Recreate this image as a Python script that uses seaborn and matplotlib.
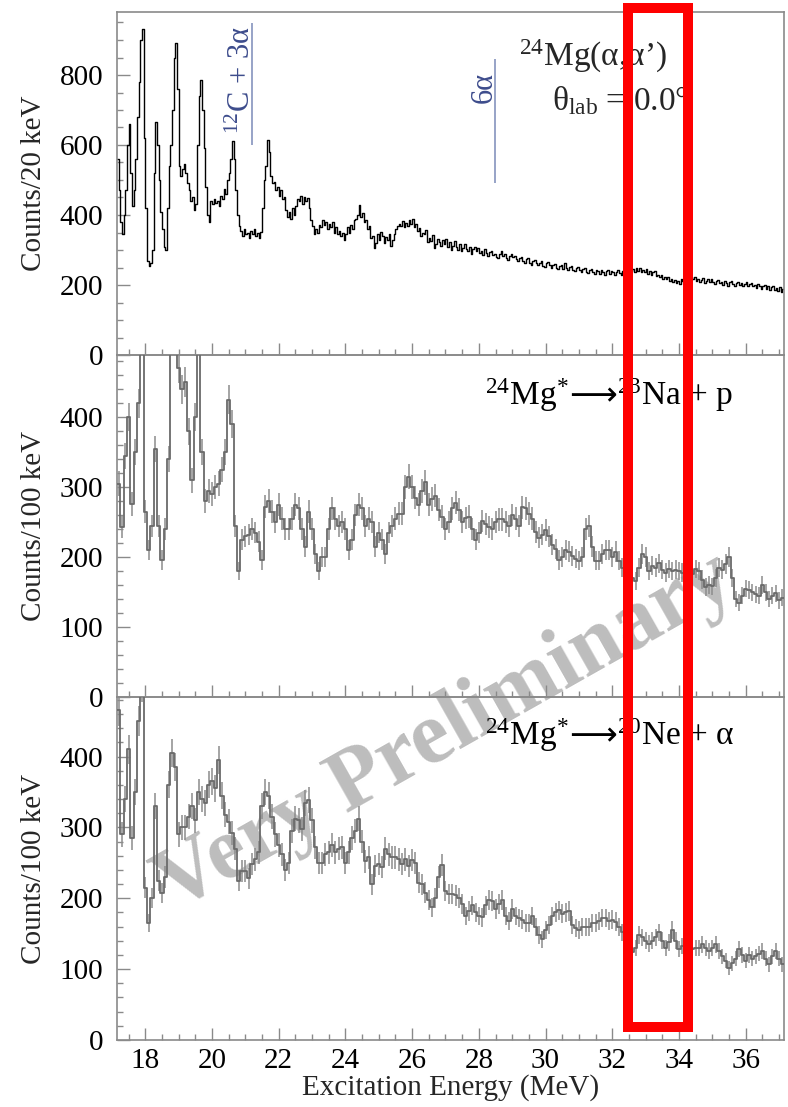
import numpy as np
import pandas as pd
import matplotlib
matplotlib.use("Agg")
import matplotlib.pyplot as plt
import seaborn as sns
from matplotlib.patches import Rectangle
from matplotlib.ticker import MultipleLocator
from matplotlib.offsetbox import TextArea, HPacker, AnnotationBbox

# ---------------- data ----------------
bin_lo, bin_hi = 17.15, 37.15
top_bins, dec_bins = 400, 200
top_energy = [round(17.175 + 0.05 * i, 3) for i in range(400)]   # bin centres (MeV)
energy = [round(17.2 + 0.1 * i, 2) for i in range(200)]          # bin centres (MeV)

# 24Mg(a,a') inclusive spectrum, one row per MeV (17.15 .. 37.15)
top_counts = [
    560, 470, 380, 345, 400, 470, 600, 660, 520, 425, 470, 560, 680, 780, 900, 930, 620, 420, 270, 255,
    262, 300, 520, 665, 600, 500, 410, 360, 310, 300, 420, 540, 600, 700, 850, 890, 760, 540, 510, 530,
    545, 520, 490, 470, 440, 450, 415, 430, 600, 740, 785, 700, 590, 480, 400, 380, 440, 430, 445, 435,
    440, 425, 455, 445, 475, 460, 500, 520, 560, 610, 560, 470, 400, 370, 355, 340, 360, 345, 350, 335,
    355, 345, 360, 340, 348, 335, 352, 420, 500, 540, 615, 580, 510, 490, 495, 470, 480, 455, 470, 445,
    450, 415, 395, 410, 390, 420, 400, 425, 445, 440, 455, 430, 452, 440, 448, 420, 385, 370, 345, 360,
    350, 372, 365, 385, 372, 380, 360, 375, 365, 380, 350, 365, 345, 355, 340, 350, 330, 345, 365, 350,
    372, 360, 385, 390, 400, 428, 395, 405, 380, 385, 360, 368, 335, 340, 305, 320, 345, 330, 352, 340,
    320, 338, 330, 345, 312, 330, 345, 360, 368, 375, 370, 382, 365, 378, 370, 385, 375, 388, 365, 375,
    355, 362, 340, 350, 345, 358, 322, 335, 325, 342, 305, 318, 332, 322, 312, 328, 318, 332, 308, 322,
    300, 312, 325, 308, 300, 318, 296, 305, 318, 302, 296, 310, 290, 302, 310, 298, 306, 292, 298, 286,
    302, 292, 284, 295, 298, 285, 290, 280, 276, 288, 296, 284, 288, 276, 272, 284, 290, 280, 284, 274,
    268, 278, 280, 270, 264, 274, 276, 264, 258, 270, 272, 262, 256, 264, 268, 255, 252, 262, 266, 256,
    250, 256, 260, 250, 246, 255, 258, 246, 262, 250, 242, 252, 254, 244, 240, 250, 252, 242, 236, 246,
    248, 238, 234, 244, 246, 236, 232, 242, 240, 232, 244, 238, 230, 240, 242, 232, 240, 236, 228, 238,
    244, 234, 230, 240, 232, 226, 236, 232, 240, 246, 236, 248, 240, 250, 238, 244, 236, 246, 232, 240,
    228, 238, 240, 226, 230, 222, 228, 218, 224, 216, 222, 212, 218, 210, 214, 206, 212, 204, 216, 212,
    222, 214, 220, 210, 224, 216, 222, 212, 218, 208, 214, 220, 206, 212, 216, 208, 218, 210, 204, 212,
    214, 206, 210, 200, 212, 206, 198, 208, 212, 202, 196, 206, 210, 200, 206, 198, 204, 210, 198, 202,
    206, 196, 200, 192, 202, 196, 190, 198, 200, 190, 196, 186, 194, 198, 186, 192, 184, 194, 180, 190,
]

# 24Mg* -> 23Na + p  (100 keV bins)
na_p_counts = [
    305, 243, 345, 400, 276, 350, 420, 520, 265, 210,
    245, 355, 245, 196, 240, 340, 520, 560, 470, 440,
    450, 380, 310, 400, 520, 350, 280, 295, 290, 300,
    305, 325, 350, 425, 390, 245, 180, 225, 230, 232,
    240, 235, 222, 196, 272, 280, 265, 250, 275, 255,
    240, 240, 255, 275, 270, 240, 215, 265, 240, 205,
    180, 200, 200, 240, 270, 255, 245, 250, 240, 210,
    225, 260, 275, 270, 245, 255, 250, 215, 235, 225,
    205, 235, 245, 255, 262, 262, 300, 315, 300, 285,
    275, 295, 307, 275, 283, 288, 268, 258, 240, 250,
    270, 278, 268, 250, 256, 258, 240, 225, 235, 252,
    248, 243, 240, 250, 254, 254, 250, 245, 260, 255,
    245, 271, 270, 262, 255, 236, 228, 232, 239, 230,
    218, 212, 196, 200, 210, 208, 202, 198, 195, 200,
    240, 245, 215, 195, 195, 205, 210, 210, 200, 208,
    195, 185, 180, 172, 170, 166, 185, 205, 200, 180,
    188, 185, 191, 182, 178, 183, 180, 182, 180, 178,
    180, 178, 176, 183, 180, 168, 157, 160, 158, 170,
    185, 182, 190, 200, 170, 140, 135, 145, 155, 153,
    150, 147, 145, 160, 150, 140, 145, 148, 138, 142,
]

# 24Mg* -> 20Ne + alpha  (100 keV bins)
ne_a_counts = [
    465, 290, 340, 410, 285, 350, 450, 500, 215, 165,
    200, 330, 225, 207, 230, 360, 405, 385, 290, 300,
    300, 315, 330, 310, 350, 340, 335, 360, 365, 355,
    395, 345, 318, 308, 292, 270, 225, 238, 238, 228,
    248, 255, 265, 330, 350, 345, 315, 290, 275, 262,
    240, 250, 295, 312, 310, 298, 335, 338, 310, 272,
    250, 250, 262, 265, 275, 265, 270, 272, 250, 265,
    285, 295, 312, 280, 252, 258, 220, 245, 248, 244,
    270, 262, 258, 258, 255, 248, 255, 245, 254, 250,
    222, 220, 208, 198, 187, 200, 230, 247, 210, 206,
    206, 204, 200, 192, 175, 182, 190, 180, 175, 173,
    190, 197, 196, 185, 192, 197, 175, 168, 185, 175,
    172, 170, 165, 165, 175, 160, 148, 142, 155, 162,
    175, 180, 183, 178, 180, 182, 162, 158, 155, 160,
    160, 160, 165, 165, 168, 172, 172, 168, 170, 167,
    160, 152, 145, 130, 124, 130, 148, 145, 140, 136,
    140, 145, 152, 140, 130, 138, 155, 140, 128, 133,
    130, 125, 128, 130, 130, 135, 130, 125, 130, 135,
    125, 118, 112, 102, 108, 115, 128, 120, 112, 120,
    115, 118, 122, 125, 115, 107, 118, 125, 115, 107,
]

thresholds = [21.2, 28.48]                       # MeV
threshold_labels = [r"$^{12}$C + 3α", "6α"]
ylabels = ["Counts/20 keV", "Counts/100 keV", "Counts/100 keV"]
x_ticks = [18, 20, 22, 24, 26, 28, 30, 32, 34, 36]
channel_labels = [(r"$^{24}$Mg$^{*}$", r"$^{23}$Na + p"),
                  (r"$^{24}$Mg$^{*}$", r"$^{20}$Ne + α")]

# ---------------- style ----------------
sns.set_style("ticks")
plt.rcParams["font.family"] = ["Liberation Serif", "DejaVu Serif"]
plt.rcParams["mathtext.fontset"] = "custom"
plt.rcParams["mathtext.rm"] = "Liberation Serif"
plt.rcParams["mathtext.it"] = "Liberation Serif:italic"
plt.rcParams["mathtext.bf"] = "Liberation Serif:bold"

FS = 21
spine_c = "#8a8a8a"
blue_txt = "#3d4c8c"
blue_line = "#8593bd"
gray = "#6a6a6a"

fig = plt.figure(figsize=(7.88, 11.07), dpi=100)
L, W = 117 / 788, 667 / 788
ax_top = fig.add_axes([L, 752 / 1107, W, 343 / 1107])
ax_mid = fig.add_axes([L, 410 / 1107, W, 342 / 1107])
ax_bot = fig.add_axes([L, 67 / 1107, W, 343 / 1107])
axes = [ax_top, ax_mid, ax_bot]

df_top = pd.DataFrame({"E": top_energy, "top": top_counts})
df = pd.DataFrame({"E": energy, "nap": na_p_counts, "nea": ne_a_counts})

sns.histplot(data=df_top, x="E", weights="top", bins=top_bins,
             binrange=(bin_lo, bin_hi), element="step",
             fill=False, color="black", linewidth=1.0, ax=ax_top)

for ax, col in [(ax_mid, "nap"), (ax_bot, "nea")]:
    c = df[col].to_numpy(dtype=float)
    ax.errorbar(df["E"], c, yerr=np.sqrt(c), fmt="none", ecolor="#8c8c8c",
                elinewidth=1.1, zorder=2)
    sns.histplot(data=df, x="E", weights=col, bins=dec_bins,
                 binrange=(bin_lo, bin_hi), element="step",
                 fill=False, color=gray, linewidth=1.3, ax=ax, zorder=3)

ylims = [(0, 980), (0, 489), (0, 484)]
ymajor = [200, 100, 100]
yminor = [50, 20, 20]
for ax, yl, lab, mj, mn in zip(axes, ylims, ylabels, ymajor, yminor):
    ax.set_facecolor("none")
    ax.set_xlim(bin_lo, bin_hi)
    ax.set_ylim(*yl)
    ax.set_ylabel(lab, fontsize=FS)
    ax.yaxis.set_label_coords(-0.105, 0.5)
    ax.set_xlabel("")
    ax.set_xticks(x_ticks)
    ax.xaxis.set_minor_locator(MultipleLocator(0.5))
    ax.yaxis.set_major_locator(MultipleLocator(mj))
    ax.yaxis.set_minor_locator(MultipleLocator(mn))
    ax.tick_params(axis="both", which="both", direction="in", colors=spine_c,
                   labelcolor="black", labelsize=FS, top=False, right=False)
    ax.tick_params(axis="both", which="major", length=9, width=1.0)
    ax.tick_params(axis="both", which="minor", length=4.5, width=1.0)
    ax.tick_params(axis="y", pad=10)
    ax.tick_params(axis="x", pad=6)
    for s in ax.spines.values():
        s.set_visible(True)
        s.set_color(spine_c)
        s.set_linewidth(1.2)

ax_top.tick_params(axis="x", labelbottom=False)
ax_mid.tick_params(axis="x", labelbottom=False)
ax_bot.set_xlabel("Excitation Energy (MeV)", fontsize=FS, labelpad=0)

# threshold markers
ax_top.vlines(thresholds[0], 600, 949, colors=blue_line, lw=1.2)
ax_top.vlines(thresholds[1], 491, 846, colors=blue_line, lw=1.2)
ax_top.text(thresholds[0] - 0.06, 786, threshold_labels[0], rotation=90,
            rotation_mode="anchor", ha="center", va="baseline",
            color=blue_txt, fontsize=22)
ax_top.text(thresholds[1] - 0.08, 763, threshold_labels[1], rotation=90,
            rotation_mode="anchor", ha="center", va="baseline",
            color=blue_txt, fontsize=22)

# reaction labels
ax_top.text(0.603, 0.843, r"$^{24}$Mg(α,α’)", transform=ax_top.transAxes,
            fontsize=24, ha="left", va="baseline")
ax_top.text(0.652, 0.714, r"θ$_{\mathrm{lab}}$ = 0.0°", transform=ax_top.transAxes,
            fontsize=24, ha="left", va="baseline")

serif_props = dict(fontsize=24, family="Liberation Serif", color="black")
arrow_props = dict(fontsize=24, family="DejaVu Sans", color="black")
for ax, (left_part, right_part), ypos in zip([ax_mid, ax_bot], channel_labels,
                                             [0.828, 0.834]):
    box = HPacker(children=[TextArea(left_part, textprops=serif_props),
                            TextArea("⟶", textprops=arrow_props),
                            TextArea(right_part, textprops=serif_props)],
                  align="baseline", pad=0, sep=0)
    ab = AnnotationBbox(box, (0.552, ypos), xycoords="axes fraction",
                        box_alignment=(0, 0), frameon=False, pad=0)
    ax.add_artist(ab)

# watermark
fig.text(0.565, 0.338, "Very Preliminary", rotation=29.5, fontsize=63,
         fontweight="bold", color="#bdbdbd", ha="center", va="center",
         rotation_mode="anchor", zorder=-1)

# red highlight box
fig.add_artist(Rectangle((628 / 788, 80 / 1107), 60 / 788, 1019 / 1107,
                         transform=fig.transFigure, fill=False,
                         edgecolor="#ff0000", lw=7.2, zorder=30))

fig.savefig("out.png", dpi=100)
